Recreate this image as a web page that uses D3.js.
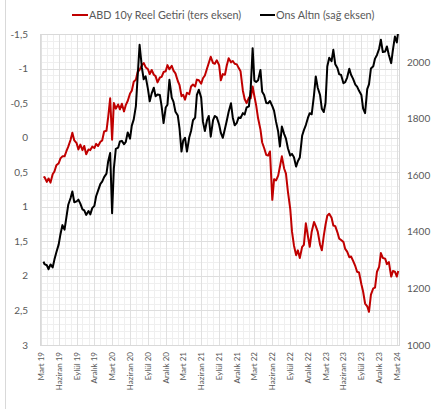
<!DOCTYPE html>
<html><head><meta charset="utf-8">
<script src="https://cdn.jsdelivr.net/npm/d3@7"></script>
<style>
body{margin:0;background:#fff;}
svg{display:block;}
text{font-family:Lato,"Open Sans",sans-serif;}
</style>
</head><body>
<svg id="chart" width="432" height="409"></svg>
<script>
const dates = [
"2019-03-15","2019-03-20","2019-04-01","2019-04-10","2019-04-20","2019-05-01","2019-05-10","2019-05-20","2019-06-01","2019-06-10","2019-06-20","2019-07-01","2019-07-10","2019-07-20","2019-08-01","2019-08-10","2019-08-20","2019-09-01","2019-09-10","2019-09-20","2019-10-01","2019-10-10","2019-10-20","2019-11-01","2019-11-10","2019-11-20","2019-12-01","2019-12-10","2019-12-20",
"2020-01-01","2020-01-10","2020-01-20","2020-02-01","2020-02-10","2020-02-20","2020-03-01","2020-03-10","2020-03-20","2020-04-01","2020-04-10","2020-04-20","2020-05-01","2020-05-10","2020-05-20","2020-06-01","2020-06-10","2020-06-20","2020-07-01","2020-07-10","2020-07-20","2020-08-01","2020-08-10","2020-08-20","2020-09-01","2020-09-10","2020-09-20","2020-10-01","2020-10-10","2020-10-20","2020-11-01","2020-11-10","2020-11-20","2020-12-01","2020-12-10","2020-12-20",
"2021-01-01","2021-01-10","2021-01-20","2021-02-01","2021-02-10","2021-02-20","2021-03-01","2021-03-10","2021-03-20","2021-04-01","2021-04-10","2021-04-20","2021-05-01","2021-05-10","2021-05-20","2021-06-01","2021-06-10","2021-06-20","2021-07-01","2021-07-10","2021-07-20","2021-08-01","2021-08-10","2021-08-20","2021-09-01","2021-09-10","2021-09-20","2021-10-01","2021-10-10","2021-10-20","2021-11-01","2021-11-10","2021-11-20","2021-12-01","2021-12-10","2021-12-20",
"2022-01-01","2022-01-10","2022-01-20","2022-02-01","2022-02-10","2022-02-20","2022-03-01","2022-03-10","2022-03-20","2022-04-01","2022-04-10","2022-04-20","2022-05-01","2022-05-10","2022-05-20","2022-06-01","2022-06-10","2022-06-20","2022-07-01","2022-07-10","2022-07-20","2022-08-01","2022-08-10","2022-08-20","2022-09-01","2022-09-10","2022-09-20","2022-10-01","2022-10-10","2022-10-20","2022-11-01","2022-11-10","2022-11-20","2022-12-01","2022-12-10","2022-12-20",
"2023-01-01","2023-01-10","2023-01-20","2023-02-01","2023-02-10","2023-02-20","2023-03-01","2023-03-10","2023-03-20","2023-04-01","2023-04-10","2023-04-20","2023-05-01","2023-05-10","2023-05-20","2023-06-01","2023-06-10","2023-06-20","2023-07-01","2023-07-10","2023-07-20","2023-08-01","2023-08-10","2023-08-20","2023-09-01","2023-09-10","2023-09-20","2023-10-01","2023-10-10","2023-10-20","2023-11-01","2023-11-10","2023-11-20","2023-12-01","2023-12-10","2023-12-20",
"2024-01-01","2024-01-10","2024-01-20","2024-02-01","2024-02-10","2024-02-20","2024-03-01","2024-03-08"
];
const realYield = [
0.58,
0.57,0.64,0.59,0.65,0.53,0.49,0.40,0.37,
0.30,0.27,0.27,0.20,0.13,0.03,-0.07,0.04,0.08,0.17,
0.10,0.18,0.12,0.24,0.17,0.18,0.13,0.15,0.09,0.12,
0.06,0.04,-0.09,-0.10,-0.30,-0.57,0.03,-0.50,-0.42,-0.48,
-0.41,-0.49,-0.38,-0.47,-0.53,-0.64,-0.68,-0.81,-0.84,-0.95,
-0.98,-1.05,-1.08,-1.02,-0.99,-0.92,-0.98,-0.91,-0.89,-0.80,
-0.87,-0.88,-0.95,-0.96,-1.05,-0.99,-1.04,-0.97,-0.93,-0.82,
-0.76,-0.60,-0.62,-0.55,-0.65,-0.63,-0.74,-0.77,-0.74,-0.84,
-0.83,-0.78,-0.86,-0.90,-1.00,-1.08,-1.17,-1.08,-1.07,-1.12,
-1.05,-0.83,-0.92,-0.91,-1.04,-1.15,-1.09,-1.11,-1.07,-1.06,
-1.01,-0.96,-0.68,-0.56,-0.50,-0.58,-0.57,-0.74,-0.60,-0.47,
-0.28,-0.12,0.07,0.15,0.25,0.26,0.20,0.90,0.60,0.62,
0.55,0.42,0.27,0.45,0.52,0.78,1.03,1.36,1.56,1.70,
1.63,1.74,1.58,1.55,1.24,1.43,1.58,1.36,1.22,1.28,
1.36,1.55,1.63,1.42,1.26,1.13,1.10,1.16,1.27,1.28,
1.37,1.46,1.48,1.51,1.61,1.65,1.73,1.72,1.78,1.86,
1.94,1.95,2.12,2.23,2.40,2.44,2.52,2.27,2.18,2.17,
1.94,1.87,1.67,1.74,1.75,1.83,1.80,2.01,1.93,1.94,
2.01,1.93
];
const gold = [
1295,
1286,1282,1268,1285,1274,1302,1328,1356,
1392,1424,1408,1450,1496,1520,1543,1505,1508,1514,
1500,1480,1476,1460,1474,1462,1484,1492,1526,1546,
1570,1578,1594,1606,1650,1679,1466,1625,1694,1698,
1720,1722,1710,1718,1752,1730,1776,1798,1845,1950,
2062,1980,1940,1950,1905,1862,1890,1910,1880,1886,
1884,1845,1785,1840,1850,1938,1875,1860,1825,1812,
1765,1684,1724,1733,1684,1735,1757,1795,1804,1885,
1903,1875,1790,1757,1795,1810,1737,1795,1810,1805,
1780,1750,1733,1765,1792,1825,1855,1805,1777,1786,
1805,1803,1820,1815,1840,1844,1905,2050,1935,1930,
1936,1973,1896,1884,1856,1855,1863,1845,1828,1790,
1755,1702,1773,1746,1730,1696,1670,1676,1664,1631,
1650,1663,1740,1760,1778,1804,1820,1816,1885,1950,
1910,1884,1836,1824,1856,1985,2016,2004,2044,1993,
1980,1958,1955,1926,1930,1946,1977,1956,1942,1921,
1914,1899,1884,1836,1820,1905,1922,1978,1986,2013,
2026,2048,2080,2036,2038,2056,2026,1997,2045,2091,
2070,2110
];
const xTickLabels = ["Mart 19","Haziran 19","Eylül 19","Aralık 19","Mart 20","Haziran 20","Eylül 20","Aralık 20","Mart 21","Haziran 21","Eylül 21","Aralık 21","Mart 22","Haziran 22","Eylül 22","Aralık 22","Mart 23","Haziran 23","Eylül 23","Aralık 23","Mart 24"];
const leftTicks = [-1.5,-1,-0.5,0,0.5,1,1.5,2,2.5,3];
const rightTicks = [1000,1200,1400,1600,1800,2000];
const seriesNames = ["ABD 10y Reel Getiri (ters eksen)","Ons Altın (sağ eksen)"];
const seriesColors = ["#c00000","#000000"];

const parse = d3.timeParse("%Y-%m-%d");
const pts = dates.map((d,i)=>({date:parse(d), ry:realYield[i], g:gold[i]}));

const svg = d3.select("#chart");
const L=40, R=399, T=34, B=345;
const x = d3.scaleTime().domain([parse("2019-02-25"), parse("2024-03-12")]).range([L,R]);
const yL = d3.scaleLinear().domain([-1.5,3]).range([T,B]);
const yR = d3.scaleLinear().domain([1000,2100]).range([B,T]);

// outer chart border (left edge visible)
svg.append("line").attr("x1",5.5).attr("x2",5.5).attr("y1",0).attr("y2",409).attr("stroke","#d9d9d9");

const grid = svg.append("g");
d3.range(0,46).map(k=>-1.5+k*0.1).forEach(v=>{
  const py=Math.round(yL(v))+0.5;
  grid.append("line").attr("x1",L).attr("x2",R).attr("y1",py).attr("y2",py).attr("stroke","#efefef");
});
d3.timeMonth.range(parse("2019-03-01"), parse("2024-03-02")).forEach(d=>{
  const px=Math.round(x(d))+0.5;
  grid.append("line").attr("x1",px).attr("x2",px).attr("y1",T).attr("y2",B).attr("stroke","#efefef");
});
const tickDates = xTickLabels.map((_,i)=>d3.timeMonth.offset(parse("2019-03-01"),3*i));
tickDates.forEach(d=>{
  const px=Math.round(x(d))+0.5;
  grid.append("line").attr("x1",px).attr("x2",px).attr("y1",T).attr("y2",B).attr("stroke","#e0e0e0");
});
leftTicks.forEach(v=>{
  const py=Math.round(yL(v))+0.5;
  grid.append("line").attr("x1",L).attr("x2",R).attr("y1",py).attr("y2",py).attr("stroke","#dedede");
});
svg.append("rect").attr("x",L+0.5).attr("y",T+0.5).attr("width",R-L).attr("height",B-T).attr("fill","none").attr("stroke","#d9d9d9");

const fmt = v => String(v).replace(".",",");
svg.append("g").selectAll("text").data(leftTicks).join("text")
  .attr("x",28).attr("y",d=>yL(d)+3.5).attr("text-anchor","end")
  .attr("font-size",10).attr("fill","#595959").text(fmt);
svg.append("g").selectAll("text").data(rightTicks).join("text")
  .attr("x",407).attr("y",d=>yR(d)+3.5).attr("text-anchor","start")
  .attr("font-size",10).attr("fill","#595959").text(d=>d);
svg.append("g").selectAll("text").data(tickDates).join("text")
  .attr("transform",d=>`translate(${x(d)+3},352) rotate(-90)`)
  .attr("text-anchor","end").attr("font-size",8).attr("fill","#595959")
  .text((d,i)=>xTickLabels[i]);

svg.append("clipPath").attr("id","clip").append("rect").attr("x",L).attr("y",T).attr("width",R-L+1).attr("height",B-T);
const plot = svg.append("g").attr("clip-path","url(#clip)");
plot.append("path").datum(pts)
  .attr("d",d3.line().x(d=>x(d.date)).y(d=>yL(d.ry)))
  .attr("fill","none").attr("stroke",seriesColors[0]).attr("stroke-width",2).attr("stroke-linejoin","round");
plot.append("path").datum(pts)
  .attr("d",d3.line().x(d=>x(d.date)).y(d=>yR(d.g)))
  .attr("fill","none").attr("stroke",seriesColors[1]).attr("stroke-width",2).attr("stroke-linejoin","round");

const leg = [{x1:72,x2:88,tx:89},{x1:260,x2:275,tx:276}];
leg.forEach((l,i)=>{
  svg.append("line").attr("x1",l.x1).attr("x2",l.x2).attr("y1",15).attr("y2",15).attr("stroke",seriesColors[i]).attr("stroke-width",2);
  svg.append("text").attr("x",l.tx).attr("y",18.5).attr("font-size",10.8).attr("fill","#595959").text(seriesNames[i]);
});
</script>
</body></html>
